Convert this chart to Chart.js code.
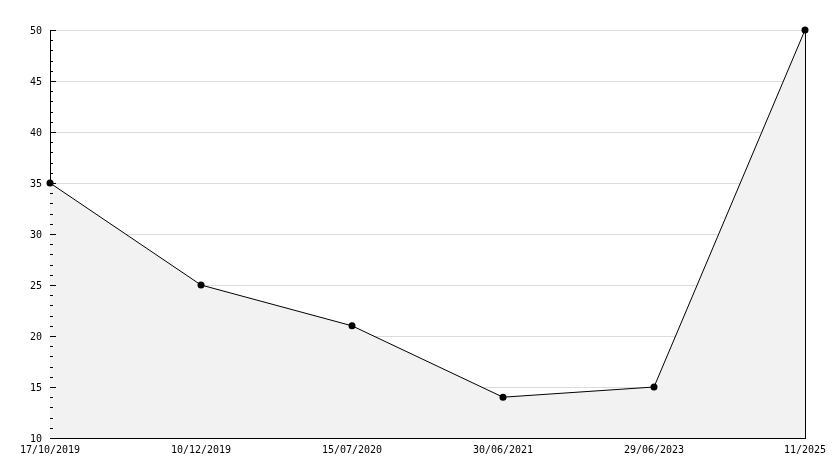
<!DOCTYPE html>
<html>
<head>
<meta charset="utf-8">
<script src="https://cdn.jsdelivr.net/npm/chart.js@4/dist/chart.umd.min.js"></script>
<style>
  html, body { margin: 0; padding: 0; background: #fff; }
  #wrap { width: 834px; height: 468px; }
</style>
</head>
<body>
<div id="wrap"><canvas id="grafico" width="834" height="468"></canvas></div>
<script>
// dados do gráfico
const datas = ['17/10/2019', '10/12/2019', '15/07/2020', '30/06/2021', '29/06/2023', '11/2025'];
const valores = [35, 25, 21, 14, 15, 50];
const yMin = 10;
const yMax = 50;

const fonte = { family: 'DejaVu Sans Mono', size: 10 };

// traços do eixo y para dentro do gráfico (grandes a cada 5, pequenos a cada 1)
const tracosY = {
  id: 'tracosY',
  afterDraw(chart) {
    const esc = chart.scales.y;
    const c = chart.ctx;
    const x0 = chart.chartArea.left;
    c.save();
    c.strokeStyle = '#000';
    c.lineWidth = 1;
    c.beginPath();
    for (let v = yMin; v <= yMax; v++) {
      const py = Math.round(esc.getPixelForValue(v)) + 0.5;
      const tam = v % 5 === 0 ? 6 : 3;
      c.moveTo(x0, py);
      c.lineTo(x0 + tam, py);
    }
    c.stroke();
    c.restore();
  }
};

let ctx = document.getElementById('grafico').getContext('2d');
let grafico = new Chart(ctx, {
  type: 'line',
  data: {
    labels: datas,
    datasets: [{
      data: valores,
      borderColor: '#000',
      borderWidth: 1,
      backgroundColor: '#f2f2f2',
      fill: 'start',
      tension: 0,
      clip: false,
      pointRadius: 3.5,
      pointBackgroundColor: '#000',
      pointBorderColor: '#000',
      pointBorderWidth: 0
    }]
  },
  options: {
    responsive: false,
    animation: false,
    layout: { padding: { top: 30, right: 29, left: 0, bottom: 0 } },
    plugins: { legend: { display: false }, tooltip: { enabled: false } },
    scales: {
      x: {
        type: 'category',
        offset: false,
        grid: { display: false, drawTicks: false },
        border: { display: true, color: '#000', width: 1 },
        ticks: { color: '#000', font: fonte, padding: 6, maxRotation: 0, autoSkip: false },
        afterFit: (s) => { s.height = 30; }
      },
      y: {
        position: 'left',
        min: yMin,
        max: yMax,
        ticks: { stepSize: 5, color: '#000', font: fonte, padding: 8, labelOffset: 1 },
        grid: {
          color: (c) => (c.tick && c.tick.value === yMin ? 'rgba(0,0,0,0)' : '#dcdcdc'),
          drawTicks: false,
          lineWidth: 1
        },
        border: { display: true, color: '#000', width: 1 },
        afterFit: (s) => { s.width = 50; }
      },
      yDireita: {
        position: 'right',
        min: yMin,
        max: yMax,
        ticks: { display: false },
        grid: { drawOnChartArea: false, drawTicks: false },
        border: { display: true, color: '#000', width: 1 },
        afterFit: (s) => { s.width = 0; }
      }
    }
  },
  plugins: [tracosY]
});
</script>
</body>
</html>
